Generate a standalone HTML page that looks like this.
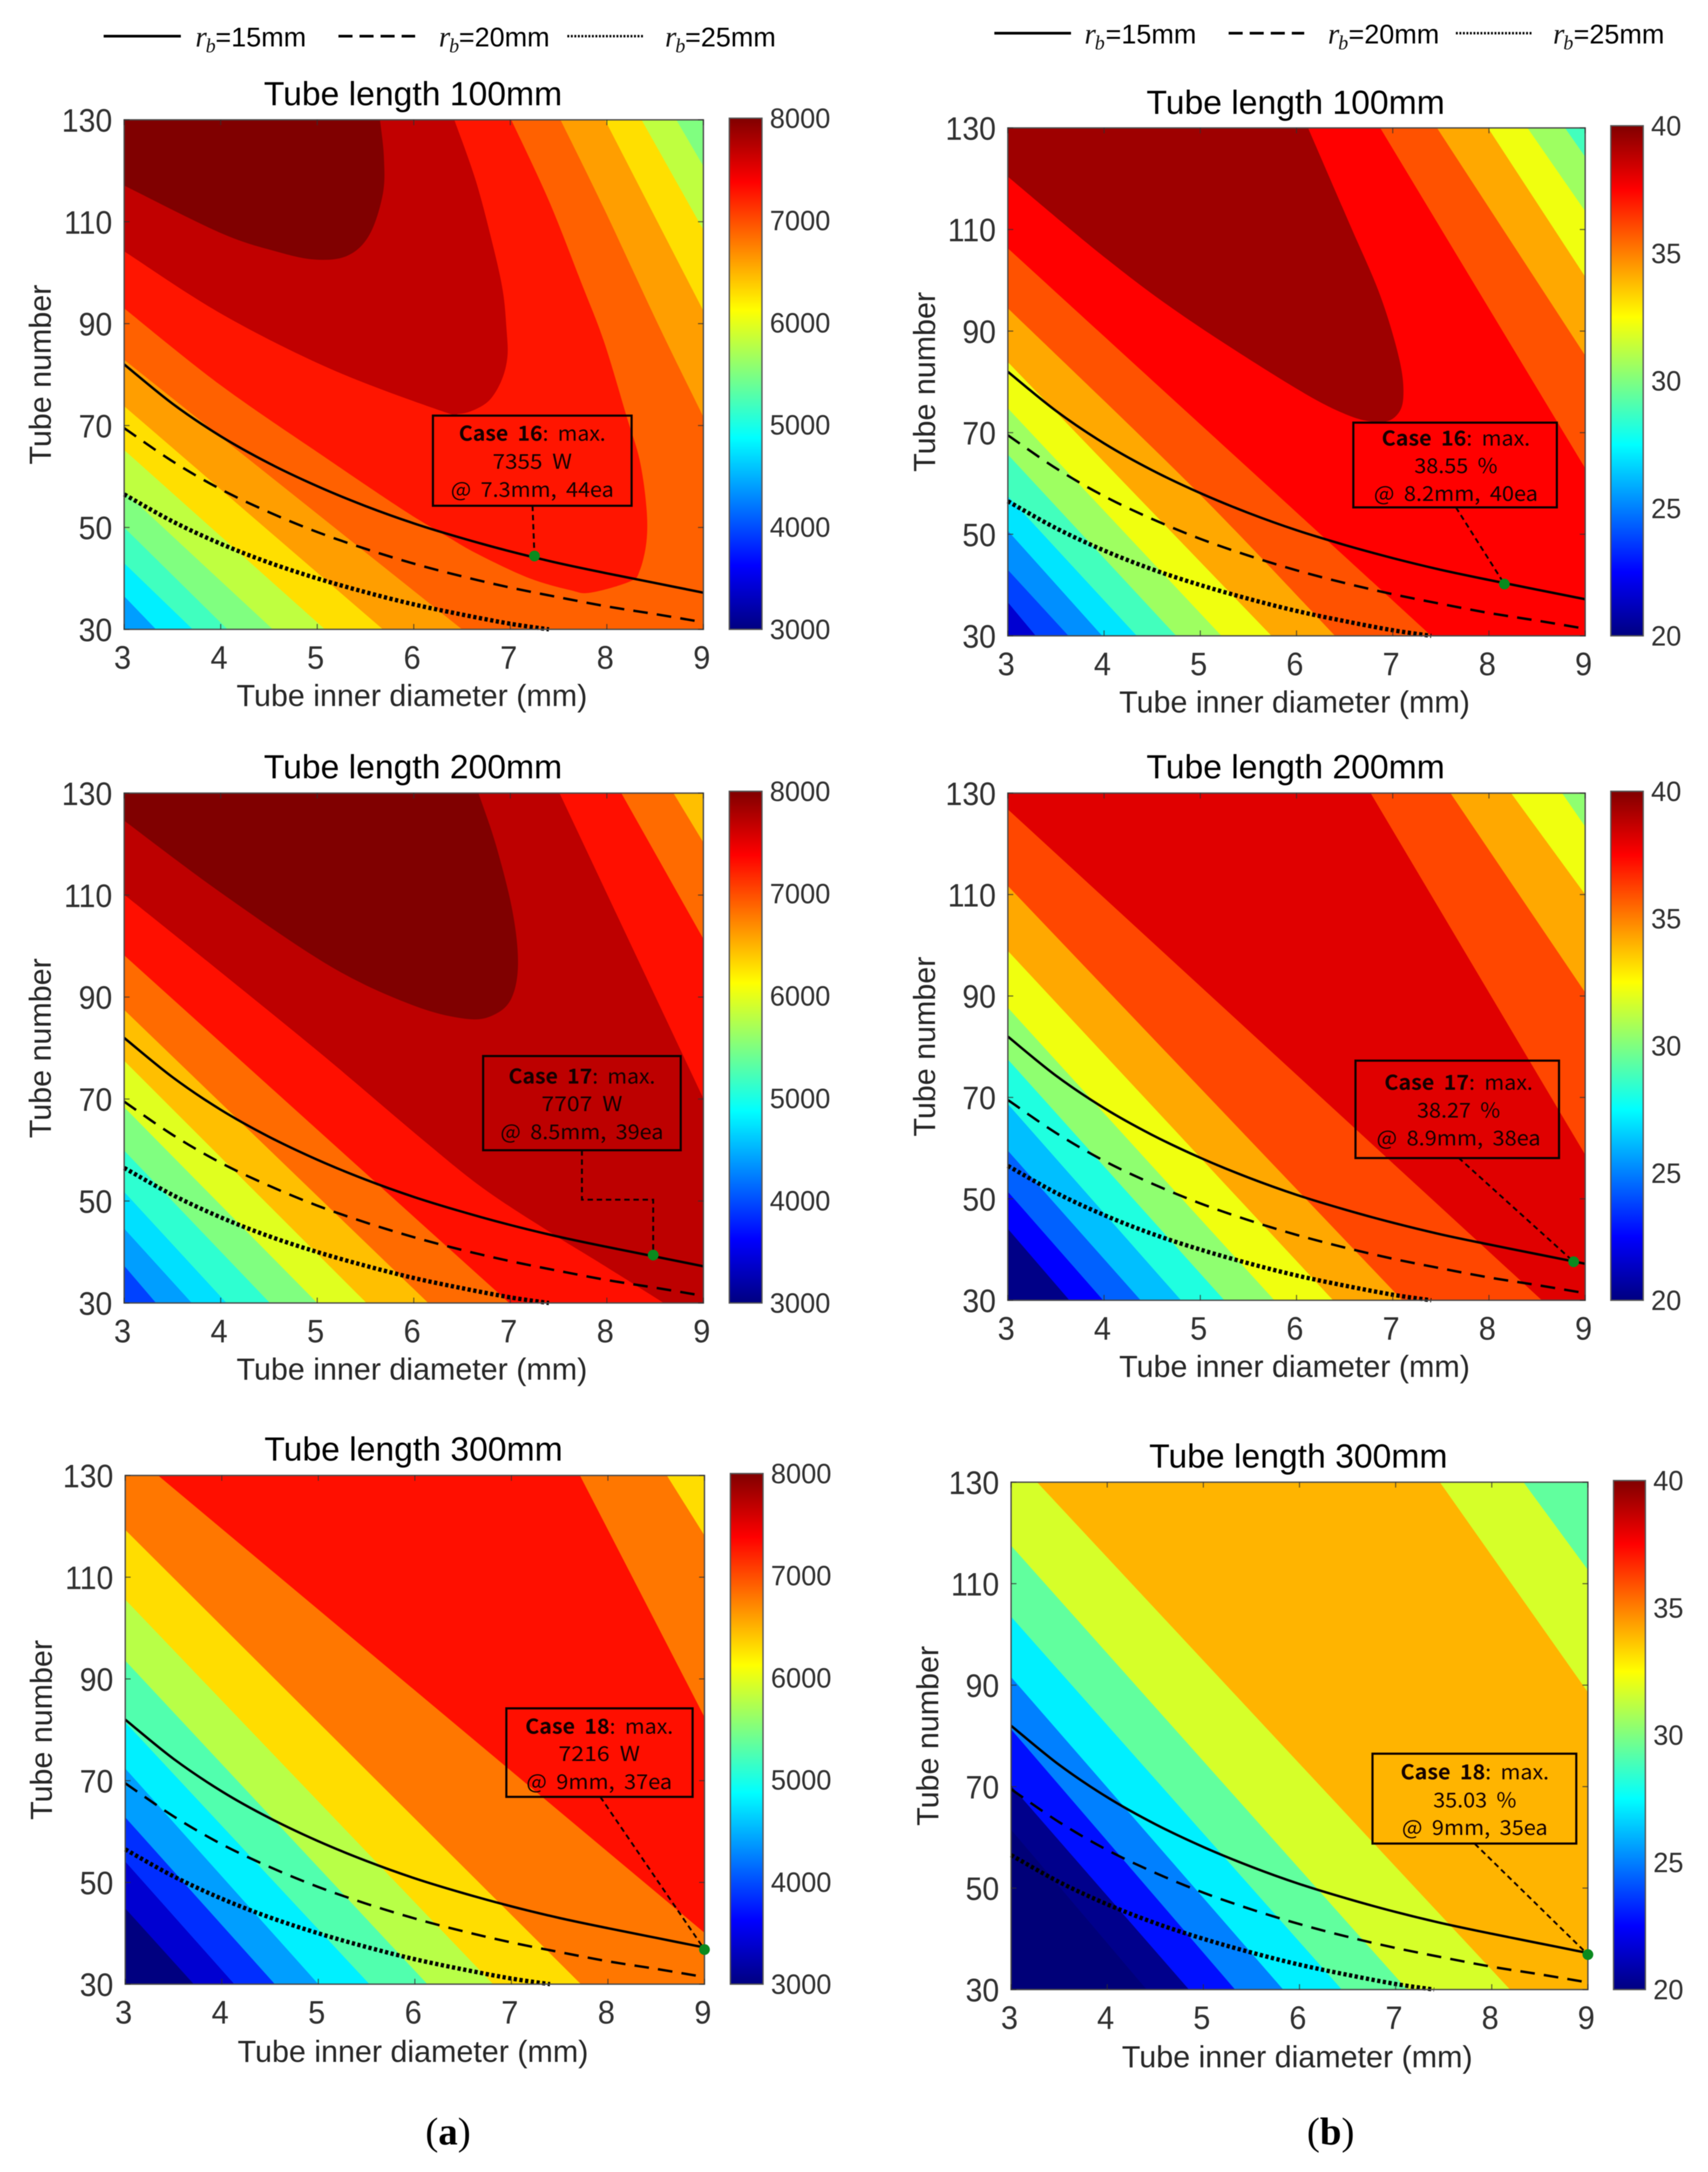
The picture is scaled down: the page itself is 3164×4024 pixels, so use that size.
<!DOCTYPE html>
<html lang="en">
<head>
<meta charset="utf-8">
<title>Tube length contour maps</title>
<style>
html,body{margin:0;padding:0;background:#fff}
svg{display:block;filter:blur(0.7px)}
text{font-family:"Liberation Sans",sans-serif}
.title{font-size:62.4px;fill:#000;text-anchor:middle}
.xlab,.ylab{font-size:56.4px;fill:#262626;text-anchor:middle}
.legend-text{font-size:50px;fill:#000}
.rb{font-family:"Liberation Serif",serif;font-style:italic;fill:#111}
.call{font-family:"Noto Sans CJK KR","Liberation Sans",sans-serif;font-size:38px;fill:#140000;text-anchor:middle;word-spacing:8px}
.call .bold{font-weight:bold}
.box{fill:none;stroke:#0c0000;stroke-width:4}
.sub{font-family:"Liberation Serif",serif;font-size:72px;fill:#000;text-anchor:middle}
</style>
</head>
<body>
<svg id="figure" xmlns="http://www.w3.org/2000/svg" width="3164" height="4024" viewBox="0 0 3164 4024">
<defs>
<linearGradient id="jet" x1="0" y1="1" x2="0" y2="0">
<stop offset="0" stop-color="#000080"/><stop offset=".125" stop-color="#0000ff"/><stop offset=".375" stop-color="#00ffff"/><stop offset=".625" stop-color="#ffff00"/><stop offset=".875" stop-color="#ff0000"/><stop offset="1" stop-color="#800000"/>
</linearGradient>
</defs>
<rect x="0" y="0" width="3164" height="4024" fill="#fff"/>
<g id="plots"></g>

<g>
<line x1="192" x2="335" y1="67" y2="67" stroke="#000" stroke-width="5"/>
<text class="legend-text" y="86"><tspan class="rb" x="362" font-size="54">r</tspan><tspan class="rb" x="381" y="97" font-size="37">b</tspan><tspan x="399" y="86">=15mm</tspan></text>
<line x1="627" x2="769" y1="67" y2="67" stroke="#000" stroke-width="5" stroke-dasharray="26 13"/>
<text class="legend-text" y="86"><tspan class="rb" x="813" font-size="54">r</tspan><tspan class="rb" x="832" y="97" font-size="37">b</tspan><tspan x="850" y="86">=20mm</tspan></text>
<line x1="1051" x2="1192" y1="67" y2="67" stroke="#000" stroke-width="4.5" stroke-dasharray="3.5 3"/>
<text class="legend-text" y="86"><tspan class="rb" x="1232" font-size="54">r</tspan><tspan class="rb" x="1251" y="97" font-size="37">b</tspan><tspan x="1269" y="86">=25mm</tspan></text>
</g>
<g>
<line x1="1842" x2="1984" y1="61.5" y2="61.5" stroke="#000" stroke-width="5"/>
<text class="legend-text" y="80.5"><tspan class="rb" x="2009" font-size="54">r</tspan><tspan class="rb" x="2028" y="91.5" font-size="37">b</tspan><tspan x="2048" y="80.5">=15mm</tspan></text>
<line x1="2276" x2="2416" y1="61.5" y2="61.5" stroke="#000" stroke-width="5" stroke-dasharray="26 13"/>
<text class="legend-text" y="80.5"><tspan class="rb" x="2460" font-size="54">r</tspan><tspan class="rb" x="2479" y="91.5" font-size="37">b</tspan><tspan x="2498" y="80.5">=20mm</tspan></text>
<line x1="2697" x2="2837" y1="61.5" y2="61.5" stroke="#000" stroke-width="4.5" stroke-dasharray="3.5 3"/>
<text class="legend-text" y="80.5"><tspan class="rb" x="2877" font-size="54">r</tspan><tspan class="rb" x="2896" y="91.5" font-size="37">b</tspan><tspan x="2915" y="80.5">=25mm</tspan></text>
</g>

<!-- Panel a1 -->
<text class="title" x="765" y="195">Tube length 100mm</text>
<text class="xlab" x="763" y="1308">Tube inner diameter (mm)</text>
<text class="ylab" transform="translate(94,694) rotate(-90)">Tube number</text>
<g>
<rect class="box" x="802" y="770" width="368" height="167"/>
<text class="call" x="986" y="816.5" textLength="272" lengthAdjust="spacingAndGlyphs"><tspan class="bold">Case 16</tspan>: max.</text>
<text class="call" x="986" y="868.5" textLength="147" lengthAdjust="spacingAndGlyphs">7355 W</text>
<text class="call" x="986" y="920.5" textLength="302" lengthAdjust="spacingAndGlyphs">@ 7.3mm, 44ea</text>
</g>

<!-- Panel b1 -->
<text class="title" x="2400" y="211">Tube length 100mm</text>
<text class="xlab" x="2398" y="1320">Tube inner diameter (mm)</text>
<text class="ylab" transform="translate(1732,707.5) rotate(-90)">Tube number</text>
<g>
<rect class="box" x="2507" y="783" width="377" height="157"/>
<text class="call" x="2697" y="825.5" textLength="275" lengthAdjust="spacingAndGlyphs"><tspan class="bold">Case 16</tspan>: max.</text>
<text class="call" x="2697" y="876.5" textLength="154" lengthAdjust="spacingAndGlyphs">38.55 %</text>
<text class="call" x="2697" y="928" textLength="304" lengthAdjust="spacingAndGlyphs">@ 8.2mm, 40ea</text>
</g>

<!-- Panel a2 -->
<text class="title" x="765" y="1442">Tube length 200mm</text>
<text class="xlab" x="763" y="2556">Tube inner diameter (mm)</text>
<text class="ylab" transform="translate(94,1942) rotate(-90)">Tube number</text>
<g>
<rect class="box" x="895" y="1956.5" width="366" height="174.5"/>
<text class="call" x="1078" y="2007.5" textLength="272" lengthAdjust="spacingAndGlyphs"><tspan class="bold">Case 17</tspan>: max.</text>
<text class="call" x="1078" y="2058.5" textLength="150" lengthAdjust="spacingAndGlyphs">7707 W</text>
<text class="call" x="1078" y="2110.5" textLength="302" lengthAdjust="spacingAndGlyphs">@ 8.5mm, 39ea</text>
</g>

<!-- Panel b2 -->
<text class="title" x="2400" y="1442">Tube length 200mm</text>
<text class="xlab" x="2398" y="2551">Tube inner diameter (mm)</text>
<text class="ylab" transform="translate(1732,1939) rotate(-90)">Tube number</text>
<g>
<rect class="box" x="2511" y="1965" width="377" height="180.5"/>
<text class="call" x="2702" y="2019" textLength="275" lengthAdjust="spacingAndGlyphs"><tspan class="bold">Case 17</tspan>: max.</text>
<text class="call" x="2702" y="2070.5" textLength="154" lengthAdjust="spacingAndGlyphs">38.27 %</text>
<text class="call" x="2702" y="2122" textLength="304" lengthAdjust="spacingAndGlyphs">@ 8.9mm, 38ea</text>
</g>

<!-- Panel a3 -->
<text class="title" x="766" y="2706">Tube length 300mm</text>
<text class="xlab" x="765" y="3820">Tube inner diameter (mm)</text>
<text class="ylab" transform="translate(96,3205) rotate(-90)">Tube number</text>
<g>
<rect class="box" x="938" y="3165" width="345" height="164"/>
<text class="call" x="1110" y="3212" textLength="274" lengthAdjust="spacingAndGlyphs"><tspan class="bold">Case 18</tspan>: max.</text>
<text class="call" x="1110" y="3262.5" textLength="151" lengthAdjust="spacingAndGlyphs">7216 W</text>
<text class="call" x="1110" y="3314.5" textLength="270" lengthAdjust="spacingAndGlyphs">@ 9mm, 37ea</text>
</g>

<!-- Panel b3 -->
<text class="title" x="2405" y="2719">Tube length 300mm</text>
<text class="xlab" x="2403" y="3830">Tube inner diameter (mm)</text>
<text class="ylab" transform="translate(1738,3216) rotate(-90)">Tube number</text>
<g>
<rect class="box" x="2542.5" y="3249" width="377.5" height="166.5"/>
<text class="call" x="2732" y="3296.5" textLength="275" lengthAdjust="spacingAndGlyphs"><tspan class="bold">Case 18</tspan>: max.</text>
<text class="call" x="2732" y="3348.5" textLength="154" lengthAdjust="spacingAndGlyphs">35.03 %</text>
<text class="call" x="2732" y="3399.5" textLength="270" lengthAdjust="spacingAndGlyphs">@ 9mm, 35ea</text>
</g>

<text class="sub" x="830" y="3973">(<tspan font-weight="bold">a</tspan>)</text>
<text class="sub" x="2465" y="3973">(<tspan font-weight="bold">b</tspan>)</text>
</svg>

<script>
// ---------- shared axis data ----------
const xTicks = [3, 4, 5, 6, 7, 8, 9];
const yTicks = [30, 50, 70, 90, 110, 130];
const powerBarTicks = [3000, 4000, 5000, 6000, 7000, 8000];
const effBarTicks = [20, 25, 30, 35, 40];

// ---------- design curves (tube number vs. inner diameter) ----------
const curveDiameters = [3, 3.5, 4, 4.5, 5, 5.5, 6, 6.5, 7, 7.5, 8, 8.5, 9];
const rb15Counts = [82, 74.3, 67.9, 62.6, 58.1, 54.2, 50.8, 47.9, 45.3, 43, 41, 39.1, 37.2];
const rb20Counts = [69.5, 63, 57.5, 53, 49.1, 45.8, 42.9, 40.4, 38.2, 36.3, 34.5, 33, 31.4];
const rb25Diameters = [3, 3.5, 4, 4.5, 5, 5.5, 6, 6.5, 7, 7.4];
const rb25Counts = [56.5, 51.2, 46.8, 43.1, 40, 37.3, 34.9, 32.9, 31.1, 30];

// ---------- plot-corner runs used to close a contour region ----------
const BR = [[9, 30]];
const TR = [[9, 130]];
const TL = [[3, 130]];

// ---------- best-design markers [diameter, tubes] ----------
const a1Best = [7.25, 44.4];
const b1Best = [8.16, 40.2];
const a2Best = [8.48, 39.4];
const b2Best = [8.88, 37.6];
const a3Best = [9, 36.8];
const b3Best = [9, 36.9];

// ---------- panel a1: level values and region boundaries ----------
const a1Values = [4400, 4800, 5190, 5500, 5810, 6280, 6600, 6900, 7270, 7680, 8000];
const a1Contours = [
  [[[3, 36.5], [3.33, 30]], BR, TR, TL],
  [[[3, 43], [3.71, 30]], BR, TR, TL],
  [[[3, 50], [4.07, 30]], BR, TR, TL],
  [[[3, 57.1], [4.54, 30]], BR, [[9, 120.9], [8.72, 130]], TL],
  [[[3, 65.2], [5.08, 30]], BR, [[9, 108.4], [8.36, 130]], TL],
  [[[3, 73.8], [5.68, 30]], BR, [[9, 92.5], [7.98, 130]], TL],
  [[[3, 82.9], [6.5, 30]], BR, [[9, 71.7], [8.53, 89.9], [7.97, 112.6], [7.52, 130]], TL],
  [[[3, 93], [4, 77.9], [5.14, 63], [5.91, 53.2], [6.34, 48.3], [6.66, 44.8], [7.19, 40.1], [7.62, 37.7], [7.83, 37.2], [8.24, 39.4], [8.34, 41.5], [8.41, 47.2], [8.41, 53.9], [8.34, 63.2], [8.2, 72.1], [7.97, 86.5], [7.74, 97.8], [7.4, 114.1], [7.01, 130]], TL],
  [[[3, 104.2], [4, 92], [5.14, 81.1], [6.28, 72.9], [6.47, 72.3], [6.64, 73.2], [6.79, 75.1], [6.91, 78.9], [6.97, 83.5], [6.96, 89.1], [6.92, 96.7], [6.81, 106.1], [6.64, 118.2], [6.42, 130]], TL],
  [[[3, 117.1], [4, 107.8], [4.57, 104.2], [4.97, 102.6], [5.31, 103.3], [5.54, 107.4], [5.68, 115.5], [5.69, 122.8], [5.65, 130]], TL]
];

// ---------- panel b1 ----------
const b1Values = [21.6, 23.8, 25.3, 27, 28.8, 30.6, 32.2, 34.2, 35.9, 37.5, 39.4];
const b1Contours = [
  [[[3, 36.6], [3.29, 30]], BR, TR, TL],
  [[[3, 43], [3.63, 30]], BR, TR, TL],
  [[[3, 50.7], [3.98, 30]], BR, TR, TL],
  [[[3, 57.5], [4.34, 30]], BR, TR, TL],
  [[[3, 65.7], [4.75, 30]], BR, [[9, 124.3], [8.79, 130]], TL],
  [[[3, 74.8], [5.22, 30]], BR, [[9, 113.6], [8.4, 130]], TL],
  [[[3, 83.9], [5.74, 30]], BR, [[9, 100.7], [7.99, 130]], TL],
  [[[3, 94.5], [4.94, 58.9], [6.4, 30]], BR, [[9, 85.2], [7.46, 130]], TL],
  [[[3, 106.3], [6.26, 49.8], [7.4, 30]], BR, [[9, 63], [6.87, 130]], TL],
  [[[3, 120.4], [4.02, 104.3], [4.86, 92.5], [5.98, 78.9], [6.54, 73.4], [6.87, 72.1], [7.04, 73.4], [7.11, 77], [7.07, 84.3], [6.87, 97], [6.54, 111.6], [6.12, 130]], TL]
];

// ---------- panel a2 ----------
const a2Values = [3950, 4400, 4725, 5100, 5500, 5975, 6440, 6850, 7300, 7700, 8000];
const a2Contours = [
  [[[3, 37.3], [3.33, 30]], BR, TR, TL],
  [[[3, 44.6], [3.7, 30]], BR, TR, TL],
  [[[3, 51.8], [4.06, 30]], BR, TR, TL],
  [[[3, 59.9], [4.51, 30]], BR, TR, TL],
  [[[3, 68.4], [5, 30]], BR, TR, TL],
  [[[3, 77.5], [5.51, 30]], BR, TR, TL],
  [[[3, 87.5], [6.15, 30]], BR, [[9, 120.3], [8.69, 130]], TL],
  [[[3, 98.2], [6.99, 30]], BR, [[9, 101.4], [8.15, 130]], TL],
  [[[3, 110.1], [4, 94.9], [5.07, 78.4], [6.1, 61.9], [6.74, 52.2], [7.46, 43.3], [7.89, 38.3], [8.59, 30]], BR, [[9, 70.1], [7.51, 130]], TL],
  [[[3, 124.6], [4, 110.5], [5.14, 96], [5.99, 88.4], [6.56, 85.7], [6.85, 86.7], [7.02, 90.1], [7.08, 96.9], [7.02, 107.1], [6.85, 119.9], [6.67, 130]], TL]
];

// ---------- panel b2 ----------
const b2Values = [20.15, 22.5, 24.4, 26.25, 28.1, 30.3, 32.2, 34.2, 36.1, 38.1];
const b2Contours = [
  [[[3, 44.1], [3.64, 30]], BR, TR, TL],
  [[[3, 51.4], [3.99, 30]], BR, TR, TL],
  [[[3, 59.5], [4.38, 30]], BR, TR, TL],
  [[[3, 68.7], [4.8, 30]], BR, TR, TL],
  [[[3, 77.5], [5.25, 30]], BR, TR, TL],
  [[[3, 87.7], [5.77, 30]], BR, [[9, 123.4], [8.76, 130]], TL],
  [[[3, 98.9], [6.38, 30]], BR, [[9, 110], [8.23, 130]], TL],
  [[[3, 111.7], [7.1, 30]], BR, [[9, 90.7], [7.6, 130]], TL],
  [[[3, 126.8], [8.55, 30]], BR, [[9, 58.7], [6.77, 130]], TL]
];

// ---------- panel a3 ----------
const a3Values = [3000, 3400, 3850, 4400, 4800, 5270, 5775, 6290, 6790, 7300];
const a3Contours = [
  [[[3, 44.9], [3.71, 30]], BR, TR, TL],
  [[[3, 54.1], [4.13, 30]], BR, TR, TL],
  [[[3, 62.8], [4.55, 30]], BR, TR, TL],
  [[[3, 72.4], [5, 30]], BR, TR, TL],
  [[[3, 81.5], [5.53, 30]], BR, TR, TL],
  [[[3, 93.6], [6.13, 30]], BR, TR, TL],
  [[[3, 105.6], [6.81, 30]], BR, TR, TL],
  [[[3, 119.3], [7.72, 30]], BR, [[9, 118.2], [8.61, 130]], TL],
  [[[3.34, 130], [9, 40.1]], [[9, 82.5], [7.71, 130]]]
];

// ---------- panel b3 ----------
const b3Values = [19.85, 20.25, 22.8, 25, 27.2, 29.4, 31.7, 33.97];
const b3Contours = [
  [[[3, 61.5], [4.41, 30]], BR, TR, TL],
  [[[3, 70.2], [4.85, 30]], BR, TR, TL],
  [[[3, 81.3], [5.33, 30]], BR, TR, TL],
  [[[3, 91.6], [5.83, 30]], BR, TR, TL],
  [[[3, 103.5], [6.44, 30]], BR, TR, TL],
  [[[3, 117.5], [7.12, 30]], BR, [[9, 112.7], [8.33, 130]], TL],
  [[[3.27, 130], [8.19, 30]], BR, [[9, 88.6], [7.46, 130]]]
];

// ---------- helpers ----------
const NS = 'http://www.w3.org/2000/svg';
const plots = document.getElementById('plots');

function make(tag, attrs, parent) {
  const el = document.createElementNS(NS, tag);
  for (const k in attrs) el.setAttribute(k, attrs[k]);
  parent.appendChild(el);
  return el;
}
function clamp01(v) { return Math.max(0, Math.min(1, v)); }
function jet(t) {
  const r = clamp01(Math.min(4 * t - 1.5, -4 * t + 4.5));
  const g = clamp01(Math.min(4 * t - 0.5, -4 * t + 3.5));
  const b = clamp01(Math.min(4 * t + 0.5, -4 * t + 2.5));
  return 'rgb(' + Math.round(r * 255) + ',' + Math.round(g * 255) + ',' + Math.round(b * 255) + ')';
}
function runsToPath(runs, sx, sy) {
  let d = '';
  runs.forEach(function (run, ri) {
    const p = run.map(function (q) { return [sx(q[0]), sy(q[1])]; });
    d += (ri === 0 ? 'M' : 'L') + p[0][0].toFixed(1) + ' ' + p[0][1].toFixed(1);
    for (let i = 0; i < p.length - 1; i++) {
      if (p.length === 2) { d += 'L' + p[1][0].toFixed(1) + ' ' + p[1][1].toFixed(1); break; }
      const a = p[Math.max(0, i - 1)], b = p[i], c = p[i + 1], e = p[Math.min(p.length - 1, i + 2)];
      d += 'C' + (b[0] + (c[0] - a[0]) / 6).toFixed(1) + ' ' + (b[1] + (c[1] - a[1]) / 6).toFixed(1) + ' ' +
           (c[0] - (e[0] - b[0]) / 6).toFixed(1) + ' ' + (c[1] - (e[1] - b[1]) / 6).toFixed(1) + ' ' +
           c[0].toFixed(1) + ' ' + c[1].toFixed(1);
    }
  });
  return d + 'Z';
}
function label(parent, x, y, str, size, anchor, sx) {
  const el = make('text', {
    transform: 'translate(' + x + ',' + y + ') scale(' + sx + ',1)',
    'font-size': size, 'text-anchor': anchor, fill: '#303030'
  }, parent);
  el.textContent = str;
  return el;
}
function zip(xs, ys) { return xs.map(function (x, i) { return [x, ys[i]]; }); }

function drawPanel(cfg) {
  const g = make('g', {}, plots);
  
  

  const sx = function (d) { return cfg.left + (d - 3) / 6 * (cfg.right - cfg.left); };
  const sy = function (n) { return cfg.bottom - (n - 30) / 100 * (cfg.bottom - cfg.top); };
  const tOf = function (v) { return (v - cfg.vmin) / (cfg.vmax - cfg.vmin); };

  const clip = make('clipPath', { id: 'clip-' + cfg.id }, g);
  make('rect', { x: cfg.left, y: cfg.top, width: cfg.right - cfg.left, height: cfg.bottom - cfg.top }, clip);

  const field = make('g', { 'clip-path': 'url(#clip-' + cfg.id + ')' }, g);
  
  

  const base = make('rect', { x: cfg.left, y: cfg.top, width: cfg.right - cfg.left, height: cfg.bottom - cfg.top, fill: jet(tOf(cfg.values[0])) }, field);
  
  

  cfg.contours.forEach(function (runs, i) {
    const band = make('path', { d: runsToPath(runs, sx, sy), fill: jet(tOf(cfg.values[i + 1])) }, field);
    
    
  });

  // design curves
  const rb15 = make('path', { d: runsToPath([zip(curveDiameters, rb15Counts)], sx, sy).slice(0, -1), fill: 'none', stroke: '#000', 'stroke-width': 4.5 }, field);
  
  

  const rb20 = make('path', { d: runsToPath([zip(curveDiameters, rb20Counts)], sx, sy).slice(0, -1), fill: 'none', stroke: '#000', 'stroke-width': 4.5, 'stroke-dasharray': '27 17' }, field);
  
  

  const rb25 = make('path', { d: runsToPath([zip(rb25Diameters, rb25Counts)], sx, sy).slice(0, -1), fill: 'none', stroke: '#000', 'stroke-width': 8, 'stroke-dasharray': '6 4.6' }, g);
  
  

  // frame
  const frame = make('rect', { x: cfg.left, y: cfg.top, width: cfg.right - cfg.left, height: cfg.bottom - cfg.top, fill: 'none', stroke: '#4a4a4a', 'stroke-width': 2.5 }, g);
  
  

  // ticks and tick labels
  const ticks = make('g', { stroke: '#303030', 'stroke-width': 2, 'stroke-opacity': 0.75 }, g);
  
  
  xTicks.forEach(function (t) {
    const x = sx(t);
    make('line', { x1: x, x2: x, y1: cfg.bottom, y2: cfg.bottom - 10 }, ticks);
    make('line', { x1: x, x2: x, y1: cfg.top, y2: cfg.top + 10 }, ticks);
    const tl = label(g, x - 3, cfg.bottom + 73, String(t), 60, 'middle', 0.95);
    
    
  });
  yTicks.forEach(function (t) {
    const y = sy(t);
    make('line', { x1: cfg.left, x2: cfg.left + 10, y1: y, y2: y }, ticks);
    make('line', { x1: cfg.right, x2: cfg.right - 10, y1: y, y2: y }, ticks);
    const tl = label(g, cfg.left - 22, y + 22, String(t), 60, 'end', 0.935);
    
    
  });

  // colorbar
  const bar = make('rect', { x: cfg.cbLeft, y: cfg.cbTop, width: cfg.cbRight - cfg.cbLeft, height: cfg.bottom - cfg.cbTop, fill: 'url(#jet)', stroke: '#555', 'stroke-width': 2.5 }, g);
  
  
  cfg.barTicks.forEach(function (t) {
    const y = cfg.bottom - tOf(t) * (cfg.bottom - cfg.cbTop);
    make('line', { x1: cfg.cbLeft, x2: cfg.cbLeft + 7, y1: y, y2: y }, ticks);
    make('line', { x1: cfg.cbRight, x2: cfg.cbRight - 7, y1: y, y2: y }, ticks);
    const tl = label(g, cfg.cbRight + 14.5, y + 18, String(t), 52, 'start', 0.97);
    
    
  });

  // leader and optimum marker
  const mx = sx(cfg.best[0]), my = sy(cfg.best[1]);
  const pts = cfg.leader.concat([[mx, my]]).map(function (p) { return p[0] + ',' + p[1]; }).join(' ');
  const lead = make('polyline', { points: pts, fill: 'none', stroke: '#0c0000', 'stroke-width': 3.5, 'stroke-dasharray': '10 7' }, g);
  
  

  const dot = make('circle', { cx: mx, cy: my, r: 10, fill: '#0a8a1e' }, g);
  
  
}

drawPanel({ id: 'a-100mm', left: 230, right: 1303, top: 222, bottom: 1166, cbLeft: 1351, cbRight: 1411.5, cbTop: 219, vmin: 3000, vmax: 8000, barTicks: powerBarTicks, values: a1Values, contours: a1Contours, best: a1Best, leader: [[986.5, 937]] });
drawPanel({ id: 'b-100mm', left: 1867, right: 2936.5, top: 237, bottom: 1178, cbLeft: 2984, cbRight: 3044, cbTop: 233, vmin: 20, vmax: 40, barTicks: effBarTicks, values: b1Values, contours: b1Contours, best: b1Best, leader: [[2697, 940]] });
drawPanel({ id: 'a-200mm', left: 230, right: 1303, top: 1469.4, bottom: 2414, cbLeft: 1351, cbRight: 1411.5, cbTop: 1466, vmin: 3000, vmax: 8000, barTicks: powerBarTicks, values: a2Values, contours: a2Contours, best: a2Best, leader: [[1078, 2131], [1078, 2222.6], [1210, 2222.6]] });
drawPanel({ id: 'b-200mm', left: 1867, right: 2936.5, top: 1469.4, bottom: 2409, cbLeft: 2984, cbRight: 3044, cbTop: 1466, vmin: 20, vmax: 40, barTicks: effBarTicks, values: b2Values, contours: b2Contours, best: b2Best, leader: [[2702, 2145]] });
drawPanel({ id: 'a-300mm', left: 232, right: 1305, top: 2733.5, bottom: 3676, cbLeft: 1353, cbRight: 1413.5, cbTop: 2730, vmin: 3000, vmax: 8000, barTicks: powerBarTicks, values: a3Values, contours: a3Contours, best: a3Best, leader: [[1112, 3329]] });
drawPanel({ id: 'b-300mm', left: 1873, right: 2941.5, top: 2746, bottom: 3686, cbLeft: 2989, cbRight: 3048, cbTop: 2743, vmin: 20, vmax: 40, barTicks: effBarTicks, values: b3Values, contours: b3Contours, best: b3Best, leader: [[2732, 3416]] });
</script>
</body>
</html>
